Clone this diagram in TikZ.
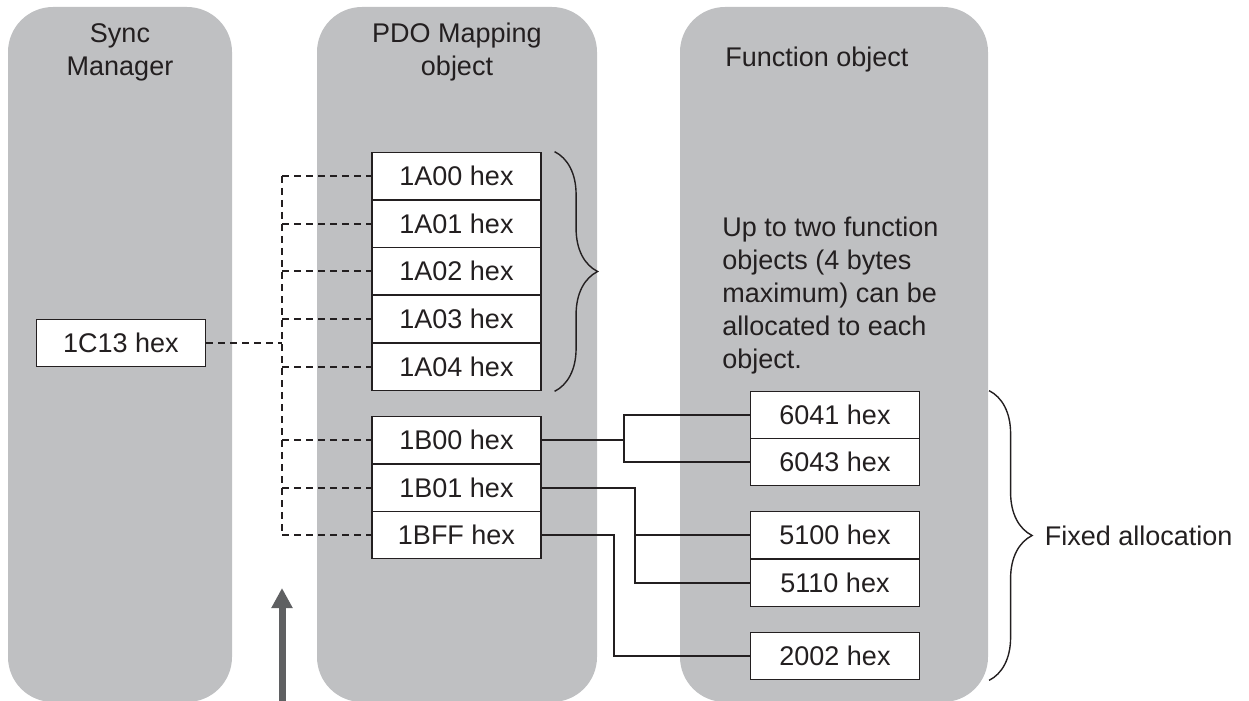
\documentclass[tikz,border=0pt]{standalone}
\usepackage{fontspec}
\setmainfont{Liberation Sans}
\usetikzlibrary{arrows.meta,calc,decorations.pathreplacing}
\definecolor{LaneGray}{HTML}{BFC0C2}
\definecolor{InkDark}{HTML}{231F20}
\definecolor{ArrowGray}{HTML}{5F6062}

\begin{document}
\begin{tikzpicture}[x=0.5pt, y=-0.5pt,
   font=\fontsize{13.5}{16.5}\selectfont, text=InkDark,
   lane/.style={fill=LaneGray, rounded corners=22.5pt},
   box/.style={draw=InkDark, fill=white, line width=0.6pt, minimum width=84.5pt,
               minimum height=23.75pt, inner sep=0pt},
   link/.style={draw=InkDark, line width=0.6pt, dash pattern=on 3.5pt off 2.5pt},
   trunk/.style={link, line width=0.9pt},
   wire/.style={draw=InkDark, line width=0.6pt},
   curly/.style={draw=InkDark, line width=0.7pt, decorate,
                 decoration={brace, amplitude=21.5pt}}]
  \useasboundingbox (0,0) rectangle (1249,701);
  \fill[lane] (8,7) rectangle (232,702);
  \fill[lane] (317,7) rectangle (597,702);
  \fill[lane] (680,7) rectangle (988,702);

  \node[align=center] (tsync) at (120,52.5) {Sync\\Manager};
  \node[align=center] (tpdo) at (457,52.5) {PDO Mapping\\object};
  \node[anchor=base west, inner sep=0pt] (tfunc) at (725,67) {Function object};

  \node[box] (c13) at (121,343) {1C13 hex};

  \node[box] (a00) at (456.5,176) {1A00 hex};
  \node[box] (a01) at (456.5,224) {1A01 hex};
  \node[box] (a02) at (456.5,271) {1A02 hex};
  \node[box] (a03) at (456.5,319) {1A03 hex};
  \node[box] (a04) at (456.5,367) {1A04 hex};
  \node[box] (b00) at (456.5,440) {1B00 hex};
  \node[box] (b01) at (456.5,488) {1B01 hex};
  \node[box] (bff) at (456.5,535) {1BFF hex};

  \node[box] (f6041) at (835,415) {6041 hex};
  \node[box] (f6043) at (835,462) {6043 hex};
  \node[box] (f5100) at (835,535) {5100 hex};
  \node[box] (f5110) at (835,583) {5110 hex};
  \node[box] (f2002) at (835,656) {2002 hex};

  \node[anchor=north west, align=left, inner sep=0pt] (note) at (722,217)
    {Up to two function\\objects (4 bytes\\maximum) can be\\allocated to each\\object.};

  % dashed links from the sync manager
  \coordinate (hub) at (282,343);
  \draw[trunk] (c13.east) -- (hub);
  \draw[trunk] (hub |- a00) -- (hub |- bff);
  \foreach \n in {a00,a01,a02,a03,a04,b00,b01,bff}
    \draw[link] (hub |- \n) -- (\n.west);

  % fixed mapping to the function objects
  \coordinate (j0) at (624,0);
  \coordinate (j1) at (635,0);
  \coordinate (j2) at (614,0);
  \draw[wire] (b00.east) -- (j0 |- b00) |- (f6041.west);
  \draw[wire] (j0 |- b00) |- (f6043.west);
  \draw[wire] (b01.east) -- (j1 |- b01) |- (f5110.west);
  \draw[wire] (j1 |- f5100) -- (f5100.west);
  \draw[wire] (bff.east) -- (j2 |- bff) |- (f2002.west);

  \draw[curly] ([xshift=6.5pt]a00.north east) -- ([xshift=6.5pt]a04.south east);
  \draw[curly] ([xshift=34.5pt]f6041.north east) -- ([xshift=34.5pt]f2002.south east)
    node[midway, right=27.5pt, inner sep=0pt] (fixed) {Fixed allocation};

  \coordinate (feed) at (282,702);
  \coordinate (feedtip) at (282,588);
  \draw[-{Triangle[width=10pt,length=10pt]}, line width=3.5pt, ArrowGray] (feed) -- (feedtip);
\end{tikzpicture}
\end{document}
